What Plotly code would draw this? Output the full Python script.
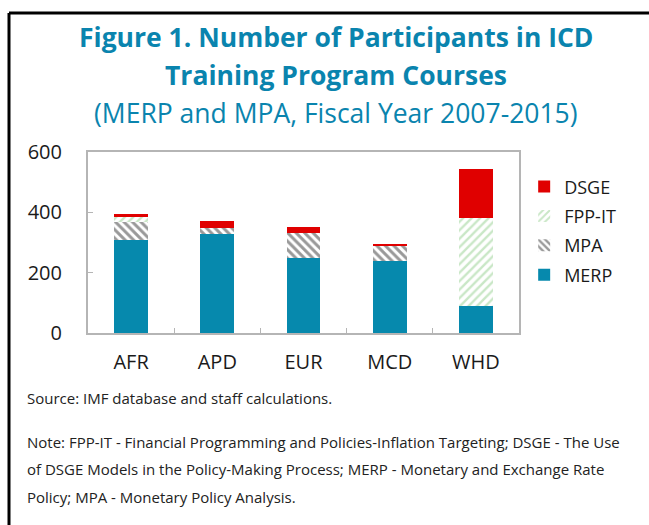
import plotly.graph_objects as go

# data
regions = ["AFR", "APD", "EUR", "MCD", "WHD"]
merp = [309, 328, 248, 238, 88]
mpa = [58, 20, 83, 49, 0]
fpp_it = [17, 0, 0, 0, 292]
dsge = [9, 24, 22, 9, 163]
y_ticks = [0, 200, 400, 600]

TITLE_BLUE = "#0a84ae"
FONT = "Open Sans, Noto Sans, sans-serif"

fig = go.Figure()
fig.add_trace(go.Bar(x=regions, y=merp, name="MERP", legendgroup="a", legendrank=4,
                     marker=dict(color="#0689ad", line=dict(width=0))))
fig.add_trace(go.Bar(x=regions, y=mpa, name="MPA", legendgroup="b", legendrank=3,
                     marker=dict(color="white", line=dict(width=0),
                                 pattern=dict(shape="\\", fgcolor="#333333", bgcolor="white", size=6, solidity=0.5))))
fig.add_trace(go.Bar(x=regions, y=fpp_it, name="FPP-IT", legendgroup="c", legendrank=2,
                     marker=dict(color="white", line=dict(width=0),
                                 pattern=dict(shape="/", fgcolor="#94cf8e", bgcolor="white", size=6, solidity=0.4))))
fig.add_trace(go.Bar(x=regions, y=dsge, name="DSGE", legendgroup="d", legendrank=1,
                     marker=dict(color="#e00000", line=dict(width=0))))

fig.update_layout(
    width=649, height=525,
    margin=dict(l=88, r=130, t=152, b=192),
    barmode="stack", bargap=0.61,
    paper_bgcolor="white", plot_bgcolor="white",
    font=dict(family=FONT, color="#1a1a1a"),
    showlegend=True,
    legend=dict(x=1.012, y=0.91, xanchor="left", yanchor="top", traceorder="grouped",
                font=dict(size=18, color="#1a1a1a"), itemwidth=30, tracegroupgap=3,
                bgcolor="rgba(0,0,0,0)"),
    xaxis=dict(range=[-0.5, 4.5], showline=True, mirror=True, linecolor="#b5b5b5", linewidth=2,
               ticks="inside", tickson="boundaries", ticklen=5, tickcolor="#b5b5b5",
               tickfont=dict(size=20), ticklabelstandoff=10, showgrid=False, fixedrange=True),
    yaxis=dict(range=[0, 600], tickvals=y_ticks, showline=True, mirror=True, linecolor="#b5b5b5",
               linewidth=2, ticks="inside", ticklen=5, tickcolor="#b5b5b5",
               tickfont=dict(size=20), ticklabelstandoff=20, showgrid=False, zeroline=False,
               fixedrange=True),
)

# titles
fig.add_annotation(text="<b>Figure 1. Number of Participants in ICD</b>", x=336, y=37,
                   showarrow=False, font=dict(size=26.5, color=TITLE_BLUE, family=FONT))
fig.add_annotation(text="<b>Training Program Courses</b>", x=336, y=75, showarrow=False,
                   font=dict(size=26.5, color=TITLE_BLUE, family=FONT))
fig.add_annotation(text="(MERP and MPA, Fiscal Year 2007-2015)", x=336, y=113, showarrow=False,
                   font=dict(size=26.5, color=TITLE_BLUE, family=FONT))

# notes
notes = [
    ("Source: IMF database and staff calculations.", 398),
    ("Note: FPP-IT - Financial Programming and Policies-Inflation Targeting; DSGE - The Use", 442),
    ("of DSGE Models in the Policy-Making Process; MERP - Monetary and Exchange Rate", 469),
    ("Policy; MPA - Monetary Policy Analysis.", 497),
]
for txt, ypx in notes:
    fig.add_annotation(text=txt, x=25, y=ypx, xanchor="left", showarrow=False,
                       font=dict(size=15, color="#222222", family=FONT))

# convert pixel positions of annotations to paper coords
pw, ph = 649 - 88 - 130, 525 - 152 - 192
for a in fig.layout.annotations:
    a.xref = "paper"
    a.yref = "paper"
    a.x = (a.x - 88) / pw
    a.y = (525 - 192 - a.y) / ph
    a.yanchor = "middle"

# black frame at the top and left edges
fig.add_shape(type="line", xref="paper", yref="paper", x0=(9 - 88) / pw, x1=(660 - 88) / pw,
              y0=(525 - 192 - 13) / ph, y1=(525 - 192 - 13) / ph, line=dict(color="black", width=3))
fig.add_shape(type="line", xref="paper", yref="paper", x0=(9 - 88) / pw, x1=(9 - 88) / pw,
              y0=(525 - 192 - 13) / ph, y1=(525 - 192 - 540) / ph, line=dict(color="black", width=3))

fig.write_html("out.html", config={"displayModeBar": False},
               post_script="document.body.style.margin='0px';")
